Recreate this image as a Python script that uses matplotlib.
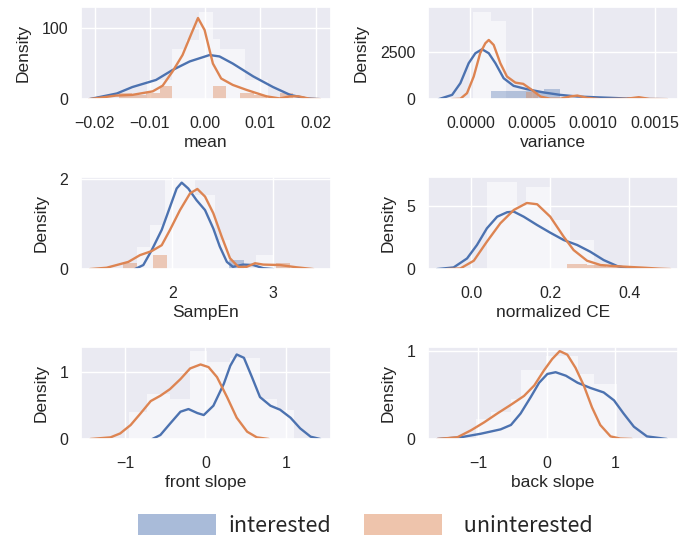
import numpy as np
import matplotlib
matplotlib.use('Agg')
import matplotlib.pyplot as plt
import seaborn as sns
from matplotlib.patches import Patch

sns.set_theme(style='darkgrid')
plt.rcParams['font.family'] = ['Liberation Sans', 'DejaVu Sans']

BLUE = '#4c72b0'
ORANGE = '#dd8452'

# ---------------- mean ----------------
mean_int_x = [-0.0210, -0.0160, -0.0132, -0.0089, -0.0059, -0.0028, 0.0008, 0.0026, 0.0050,
              0.0087, 0.0123, 0.0154, 0.0184, 0.0208]
mean_int_y = [0, 8, 17, 27, 41, 53, 62, 60, 50, 32, 17, 6, 1, 0]
mean_unint_x = [-0.0210, -0.0162, -0.0132, -0.0095, -0.0077, -0.0059, -0.0041, -0.0025, -0.0013,
                -0.0001, 0.0014, 0.0029, 0.0050, 0.0075, 0.0111, 0.0135, 0.0154, 0.0169, 0.0190, 0.0208]
mean_unint_y = [0, 5, 6, 11, 19, 39, 62, 92, 114, 97, 50, 29, 20, 13, 4, 1, 4, 4, 0.5, 0]
mean_pale_edges = [-0.0105, -0.0060, -0.0034, -0.0012, 0.0015, 0.0027, 0.0072, 0.0114]
mean_pale_h = [27, 70, 83, 123, 85, 70, 27]
mean_unint_edges = [-0.0157, -0.0133, -0.0108, -0.0082, -0.0060, 0.0015, 0.0037, 0.0064,
                    0.0088, 0.0112, 0.0136, 0.0160]
mean_unint_h = [8, 6, 8, 19, 0, 19, 0, 8, 6, 0, 8]
mean_int_edges = []
mean_int_h = []

# ---------------- variance ----------------
var_int_x = [-0.000257, -0.000148, -0.000081, -0.0000135, 0.000041, 0.0000954, 0.00015, 0.000204,
             0.000271, 0.000352, 0.00046, 0.0006, 0.00073, 0.00087, 0.001, 0.00114, 0.00127,
             0.0014, 0.0016]
var_int_y = [0, 226, 840, 1890, 2415, 2625, 2415, 1890, 1100, 700, 525, 350, 226, 140, 105, 70,
             35, 10, 0]
var_unint_x = [-0.000148, -0.000081, -0.000027, 0.0000276, 0.00008, 0.000122, 0.00015, 0.00019,
               0.000244, 0.000298, 0.000366, 0.00043, 0.0005, 0.00057, 0.00065, 0.00073, 0.00081,
               0.00087, 0.00095, 0.00106, 0.00127, 0.00137, 0.00146, 0.0016]
var_unint_y = [0, 20, 315, 1190, 2415, 2940, 3113, 2850, 1890, 1190, 870, 805, 490, 140, 20, 20,
               140, 190, 70, 0, 20, 105, 10, 0]
var_pale_edges = [0.00002, 0.00017, 0.00029]
var_pale_h = [4600, 4110]
var_int_edges = [0.00017, 0.00031, 0.00046, 0.0006, 0.00073, 0.00087, 0.001, 0.00113]
var_int_h = [440, 440, 450, 510, 0, 0, 130]
var_unint_edges = [0.00045, 0.00055, 0.00127, 0.0014]
var_unint_h = [365, 0, 130]

# ---------------- SampEn ----------------
se_int_x = [1.63, 1.713, 1.796, 1.895, 1.977, 2.043, 2.093, 2.158, 2.24, 2.324, 2.406, 2.47,
            2.54, 2.60, 2.70, 2.80, 2.90, 3.0]
se_int_y = [0, 0.09, 0.42, 0.87, 1.38, 1.79, 1.92, 1.79, 1.53, 1.31, 0.90, 0.50, 0.16, 0.05,
            0.10, 0.09, 0.02, 0]
se_unint_x = [1.185, 1.35, 1.565, 1.68, 1.796, 1.895, 1.977, 2.076, 2.175, 2.248, 2.324, 2.406,
              2.489, 2.571, 2.654, 2.736, 2.819, 2.90, 3.066, 3.23, 3.396]
se_unint_y = [0, 0.03, 0.16, 0.31, 0.40, 0.53, 0.87, 1.31, 1.68, 1.78, 1.61, 1.24, 0.72, 0.24,
              0.05, 0.05, 0.13, 0.10, 0.09, 0.04, 0]
se_pale_edges = [1.647, 1.78, 1.93, 2.03, 2.22, 2.42, 2.57, 2.83, 3.0]
se_pale_h = [0.5, 0.98, 2.0, 1.98, 1.64, 0.64, 0, 0.31]
se_int_edges = [2.56, 2.71]
se_int_h = [0.21]
se_unint_edges = [1.515, 1.647, 1.81, 1.945, 3.03, 3.165]
se_unint_h = [0.13, 0, 0.31, 0, 0.14]

# ---------------- normalized CE ----------------
ce_int_x = [-0.086, -0.044, -0.010, 0.015, 0.040, 0.066, 0.091, 0.108, 0.133, 0.167, 0.200,
            0.234, 0.268, 0.301, 0.335, 0.369, 0.402, 0.436]
ce_int_y = [0, 0.13, 0.84, 1.90, 3.21, 4.13, 4.48, 4.53, 4.13, 3.47, 2.87, 2.29, 1.90, 1.37,
            0.71, 0.24, 0.03, 0]
ce_unint_x = [-0.061, -0.027, 0.007, 0.040, 0.074, 0.108, 0.141, 0.167, 0.200, 0.234, 0.259,
              0.293, 0.327, 0.360, 0.394, 0.436, 0.478, 0.503]
ce_unint_y = [0, 0.05, 0.66, 2.16, 3.61, 4.66, 5.21, 5.11, 4.13, 2.55, 1.50, 0.66, 0.32, 0.24,
              0.18, 0.11, 0.03, 0]
ce_pale_edges = [0.04, 0.116, 0.139, 0.20, 0.25, 0.31]
ce_pale_h = [6.9, 5.0, 6.5, 3.9, 2.3]
ce_int_edges = []
ce_int_h = []
ce_unint_edges = [0.243, 0.293, 0.34, 0.385, 0.43, 0.47]
ce_unint_h = [0.37, 0.32, 0.2, 0, 0.1]

# ---------------- front slope ----------------
fs_int_x = [-0.66, -0.56, -0.44, -0.31, -0.21, -0.10, -0.02, 0.10, 0.23, 0.31, 0.39, 0.48,
            0.58, 0.68, 0.81, 0.93, 1.06, 1.18, 1.31, 1.43]
fs_int_y = [0, 0.06, 0.23, 0.41, 0.45, 0.39, 0.36, 0.50, 0.83, 1.10, 1.27, 1.22, 0.93, 0.63,
            0.50, 0.44, 0.32, 0.16, 0.035, 0]
fs_unint_x = [-1.43, -1.18, -1.06, -0.93, -0.81, -0.68, -0.56, -0.44, -0.31, -0.19, -0.06, 0.04,
              0.145, 0.27, 0.39, 0.52, 0.64, 0.79]
fs_unint_y = [0, 0.025, 0.084, 0.21, 0.38, 0.57, 0.65, 0.75, 0.90, 1.06, 1.12, 1.08, 0.93, 0.63,
              0.32, 0.11, 0.025, 0]
fs_pale_edges = [-0.95, -0.73, -0.44, -0.19, 0.02, 0.31, 0.68, 0.89, 1.1]
fs_pale_h = [0.41, 0.68, 0.60, 1.32, 1.15, 1.22, 0.60, 0.43]
fs_int_edges = []
fs_int_h = []
fs_unint_edges = []
fs_unint_h = []

# ---------------- back slope ----------------
bs_int_x = [-1.59, -1.25, -0.96, -0.67, -0.52, -0.38, -0.23, -0.11, 0.01, 0.13, 0.28, 0.45,
            0.64, 0.83, 0.98, 1.12, 1.27, 1.46, 1.75]
bs_int_y = [0, 0.02, 0.06, 0.11, 0.16, 0.29, 0.48, 0.64, 0.74, 0.76, 0.72, 0.64, 0.58, 0.53,
            0.44, 0.29, 0.14, 0.03, 0]
bs_unint_x = [-1.59, -1.30, -1.10, -0.91, -0.72, -0.52, -0.33, -0.18, -0.04, 0.08, 0.19, 0.30,
              0.42, 0.54, 0.66, 0.78, 0.93, 1.07, 1.24]
bs_unint_y = [0, 0.02, 0.10, 0.19, 0.29, 0.39, 0.49, 0.61, 0.78, 0.91, 1.0, 0.96, 0.81, 0.61,
              0.36, 0.16, 0.03, 0.005, 0]
bs_pale_edges = [-1.03, -0.81, -0.52, -0.38, -0.01, 0.45, 0.69, 1.03]
bs_pale_h = [0.23, 0.31, 0.45, 0.78, 0.95, 0.74, 0.63]
bs_int_edges = []
bs_int_h = []
bs_unint_edges = []
bs_unint_h = []

panels = [
    ('mean', mean_int_x, mean_int_y, mean_unint_x, mean_unint_y, mean_pale_edges, mean_pale_h,
     mean_int_edges, mean_int_h, mean_unint_edges, mean_unint_h,
     (-0.0225, 0.0228), (0, 129), [-0.02, -0.01, 0.0, 0.01, 0.02], '%.2f', [0, 100]),
    ('variance', var_int_x, var_int_y, var_unint_x, var_unint_y, var_pale_edges, var_pale_h,
     var_int_edges, var_int_h, var_unint_edges, var_unint_h,
     (-0.000344, 0.001689), (0, 4830), [0.0, 0.0005, 0.001, 0.0015], '%.4f', [0, 2500]),
    ('SampEn', se_int_x, se_int_y, se_unint_x, se_unint_y, se_pale_edges, se_pale_h,
     se_int_edges, se_int_h, se_unint_edges, se_unint_h,
     (1.096, 3.571), (0, 2.04), [2, 3], '%d', [0, 2]),
    ('normalized CE', ce_int_x, ce_int_y, ce_unint_x, ce_unint_y, ce_pale_edges, ce_pale_h,
     ce_int_edges, ce_int_h, ce_unint_edges, ce_unint_h,
     (-0.1086, 0.5227), (0, 7.24), [0.0, 0.2, 0.4], '%.1f', [0, 5]),
    ('front slope', fs_int_x, fs_int_y, fs_unint_x, fs_unint_y, fs_pale_edges, fs_pale_h,
     fs_int_edges, fs_int_h, fs_unint_edges, fs_unint_h,
     (-1.548, 1.564), (0, 1.38), [-1, 0, 1], '%d', [0, 1]),
    ('back slope', bs_int_x, bs_int_y, bs_unint_x, bs_unint_y, bs_pale_edges, bs_pale_h,
     bs_int_edges, bs_int_h, bs_unint_edges, bs_unint_h,
     (-1.728, 1.913), (0, 1.045), [-1, 0, 1], '%d', [0, 1]),
]


def draw_bars(ax, edges, heights, color, alpha):
    if len(edges) < 2:
        return
    edges = np.asarray(edges, dtype=float)
    ax.bar(edges[:-1], heights, width=np.diff(edges), align='edge',
           color=color, alpha=alpha, linewidth=0)


fig, axes = plt.subplots(3, 2, figsize=(6.94, 5.38), dpi=100)
fig.subplots_adjust(left=0.1167, right=0.977, top=0.9864, bottom=0.184,
                    wspace=0.388, hspace=0.85)

for ax, p in zip(axes.flat, panels):
    (name, ix, iy, ux, uy, pe, ph, ie, ih, ue, uh, xlim, ylim, xt, fmt, yt) = p
    draw_bars(ax, pe, ph, 'white', 0.55)
    draw_bars(ax, ie, ih, BLUE, 0.35)
    draw_bars(ax, ue, uh, ORANGE, 0.4)
    ax.plot(ix, iy, color=BLUE, lw=1.7)
    ax.plot(ux, uy, color=ORANGE, lw=1.7)
    ax.set_xlim(*xlim)
    ax.set_ylim(*ylim)
    ax.set_xticks(xt, [(fmt % t).replace('-', '\u2212') for t in xt])
    ax.set_yticks(yt)
    ax.tick_params(axis='x', labelsize=11.5, pad=12, length=0)
    ax.tick_params(axis='y', labelsize=11.5, pad=9, length=0)
    ax.set_xlabel(name, fontsize=12.5, labelpad=3)
    ax.set_ylabel('Density', fontsize=12.5, labelpad=8)

handles = [Patch(facecolor=BLUE, alpha=0.48, linewidth=0),
           Patch(facecolor=ORANGE, alpha=0.48, linewidth=0)]
fig.legend(handles, ['interested', '  uninterested'], loc='lower left',
           bbox_to_anchor=(138 / 694, 1 / 538), ncol=2, frameon=False,
           borderpad=0, borderaxespad=0,
           prop={'family': ['Noto Sans CJK SC', 'DejaVu Sans'], 'size': 15.5, 'weight': 'light'},
           handlelength=3.63, handleheight=1.16, handletextpad=0.55, columnspacing=1.55)

fig.savefig('out.png', dpi=100)
